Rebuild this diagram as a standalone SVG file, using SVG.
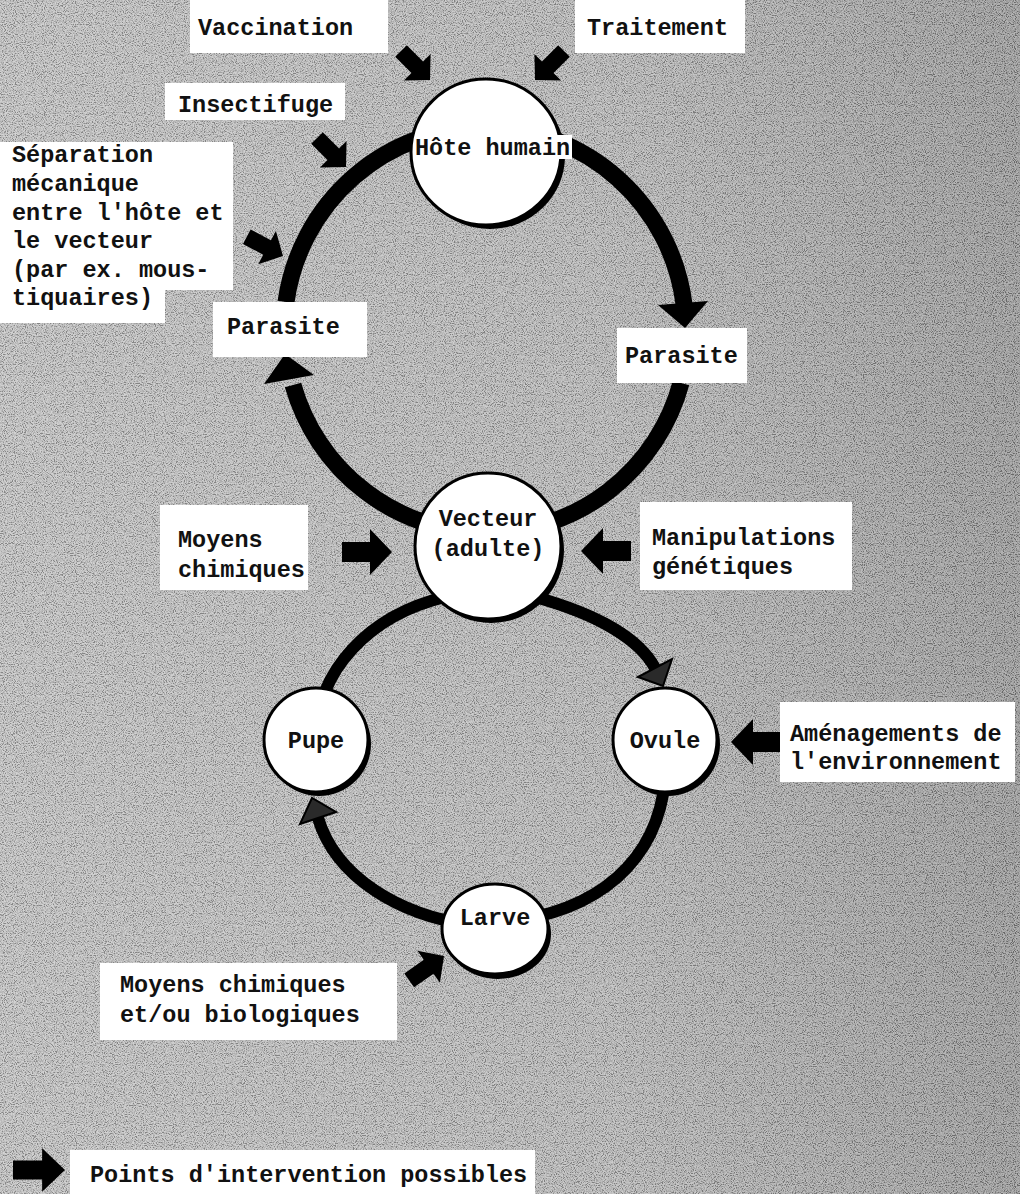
<svg xmlns="http://www.w3.org/2000/svg" xmlns:xlink="http://www.w3.org/1999/xlink" width="1020" height="1194" viewBox="0 0 1020 1194">
  <defs>
    <linearGradient id="bg" x1="0" y1="0" x2="1" y2="0">
      <stop offset="0" stop-color="#c2c2c2"/>
      <stop offset="0.6" stop-color="#b6b6b6"/>
      <stop offset="1" stop-color="#959595"/>
    </linearGradient>
    <filter id="grain" x="0" y="0" width="100%" height="100%">
      <feTurbulence type="fractalNoise" baseFrequency="0.9" numOctaves="2" seed="7"/>
      <feColorMatrix type="matrix" values="1 0 0 0 0  1 0 0 0 0  1 0 0 0 0  0 0 0 0 1"/>
      <feComponentTransfer>
        <feFuncR type="linear" slope="3" intercept="-1"/>
        <feFuncG type="linear" slope="3" intercept="-1"/>
        <feFuncB type="linear" slope="3" intercept="-1"/>
      </feComponentTransfer>
    </filter>
    <path id="ia" d="M-50,-10 H-22 V-23 L0,0 L-22,23 V10 H-50 Z"/>
    <style>
      .t { font-family: "Liberation Mono", "Courier New", monospace; font-size: 23.5px; font-weight: bold; fill: #111; }
      .c { text-anchor: middle; }
      .box { fill: #ffffff; }
      .ring1 { fill: none; stroke: #000; stroke-width: 17; }
      .ring2 { fill: none; stroke: #000; stroke-width: 12; }
      .head { fill: #000; }
      .head2 { fill: #2a2a2a; stroke: #000; stroke-width: 2; }
      .shadow { fill: #000; }
      .node { fill: #fff; stroke: #000; stroke-width: 3; }
      .ia { fill: #000; }
    </style>
  </defs>

  <rect x="0" y="0" width="1020" height="1194" fill="url(#bg)"/>
  <rect x="0" y="0" width="1020" height="1194" filter="url(#grain)" opacity="0.3"/>

  <g id="connectors">
    <!-- upper loop -->
    <path class="ring1" d="M486,127 A203,203 0 0 1 684,304"/>
    <polygon class="head" points="658,305 708,301 685,328"/>
    <path class="ring1" d="M681,383 A203,203 0 0 1 486,533"/>
    <path class="ring1" d="M486,533 A203,203 0 0 1 293,385"/>
    <polygon class="head" points="264,384 314,375 285,354"/>
    <path class="ring1" d="M286,302 A203,203 0 0 1 486,127"/>
    <!-- lower loop -->
    <path class="ring2" d="M535,597 C600,615 640,640 655,668"/>
    <polygon class="head2" points="638,677 672,659 663,686"/>
    <path class="ring2" d="M666,760 C666,850 610,905 520,920"/>
    <path class="ring2" d="M470,925 C400,915 336,878 318,818"/>
    <polygon class="head2" points="336,812 300,824 312,798"/>
    <path class="ring2" d="M316,740 C316,670 370,615 445,597"/>
    <!-- intervention arrows -->
    <use xlink:href="#ia" class="ia" transform="translate(430,80) rotate(45) scale(0.82)"/>
    <use xlink:href="#ia" class="ia" transform="translate(535,80) rotate(135) scale(0.82)"/>
    <use xlink:href="#ia" class="ia" transform="translate(346,167) rotate(45) scale(0.82)"/>
    <use xlink:href="#ia" class="ia" transform="translate(283,256) rotate(28) scale(0.82)"/>
    <use xlink:href="#ia" class="ia" transform="translate(392,552)"/>
    <use xlink:href="#ia" class="ia" transform="translate(581,551) rotate(180)"/>
    <use xlink:href="#ia" class="ia" transform="translate(731,742) rotate(180)"/>
    <use xlink:href="#ia" class="ia" transform="translate(444,956) rotate(-35) scale(0.85)"/>
    <use xlink:href="#ia" class="ia" transform="translate(65,1170) scale(1.04,0.95)"/>
  </g>

  <g id="node-hote">
    <ellipse class="shadow" cx="490" cy="156" rx="75" ry="73"/>
    <ellipse class="node" cx="486" cy="152" rx="75" ry="73"/>
    <rect class="box" x="552" y="135" width="20" height="24"/>
    <text class="t" x="415" y="155">Hôte humain</text>
  </g>
  <g id="node-vecteur">
    <ellipse class="shadow" cx="491" cy="550" rx="73" ry="73"/>
    <ellipse class="node" cx="488" cy="546" rx="73" ry="73"/>
    <text class="t c" x="488" y="526">Vecteur</text>
    <text class="t c" x="488" y="556">(adulte)</text>
  </g>
  <g id="node-pupe">
    <ellipse class="shadow" cx="319" cy="744" rx="52" ry="52"/>
    <ellipse class="node" cx="316" cy="740" rx="52" ry="52"/>
    <text class="t c" x="316" y="748">Pupe</text>
  </g>
  <g id="node-ovule">
    <ellipse class="shadow" cx="668" cy="744" rx="52" ry="52"/>
    <ellipse class="node" cx="665" cy="740" rx="52" ry="52"/>
    <text class="t c" x="665" y="748">Ovule</text>
  </g>
  <g id="node-larve">
    <ellipse class="shadow" cx="498" cy="934" rx="53" ry="45"/>
    <ellipse class="node" cx="495" cy="929" rx="53" ry="45"/>
    <text class="t c" x="495" y="925">Larve</text>
  </g>

  <g id="label-parasite-left">
    <rect class="box" x="213" y="302" width="154" height="55"/>
    <text class="t" x="227" y="334">Parasite</text>
  </g>
  <g id="label-parasite-right">
    <rect class="box" x="617" y="328" width="130" height="55"/>
    <text class="t" x="625" y="363">Parasite</text>
  </g>
  <g id="label-vaccination">
    <rect class="box" x="190" y="0" width="198" height="53"/>
    <text class="t" x="198" y="35">Vaccination</text>
  </g>
  <g id="label-traitement">
    <rect class="box" x="575" y="0" width="170" height="53"/>
    <text class="t" x="587" y="35">Traitement</text>
  </g>
  <g id="label-insectifuge">
    <rect class="box" x="165" y="83" width="180" height="37"/>
    <text class="t" x="178" y="112">Insectifuge</text>
  </g>
  <g id="label-separation">
    <path class="box" d="M0,142 H233 V290 H165 V323 H0 Z"/>
    <text class="t" x="12" y="162">Séparation</text>
    <text class="t" x="12" y="191">mécanique</text>
    <text class="t" x="12" y="220">entre l'hôte et</text>
    <text class="t" x="12" y="248">le vecteur</text>
    <text class="t" x="12" y="277">(par ex. mous-</text>
    <text class="t" x="12" y="305">tiquaires)</text>
  </g>
  <g id="label-moyens-chimiques">
    <rect class="box" x="160" y="505" width="148" height="85"/>
    <text class="t" x="178" y="547">Moyens</text>
    <text class="t" x="178" y="577">chimiques</text>
  </g>
  <g id="label-manipulations">
    <rect class="box" x="640" y="502" width="212" height="88"/>
    <text class="t" x="652" y="545">Manipulations</text>
    <text class="t" x="652" y="574">génétiques</text>
  </g>
  <g id="label-amenagements">
    <rect class="box" x="780" y="702" width="235" height="80"/>
    <text class="t" x="790" y="741">Aménagements de</text>
    <text class="t" x="790" y="769">l'environnement</text>
  </g>
  <g id="label-moyens-bio">
    <rect class="box" x="100" y="963" width="297" height="77"/>
    <text class="t" x="120" y="992">Moyens chimiques</text>
    <text class="t" x="120" y="1022">et/ou biologiques</text>
  </g>
  <g id="legend">
    <rect class="box" x="70" y="1150" width="465" height="44"/>
    <text class="t" x="90" y="1182">Points d'intervention possibles</text>
  </g>
</svg>
